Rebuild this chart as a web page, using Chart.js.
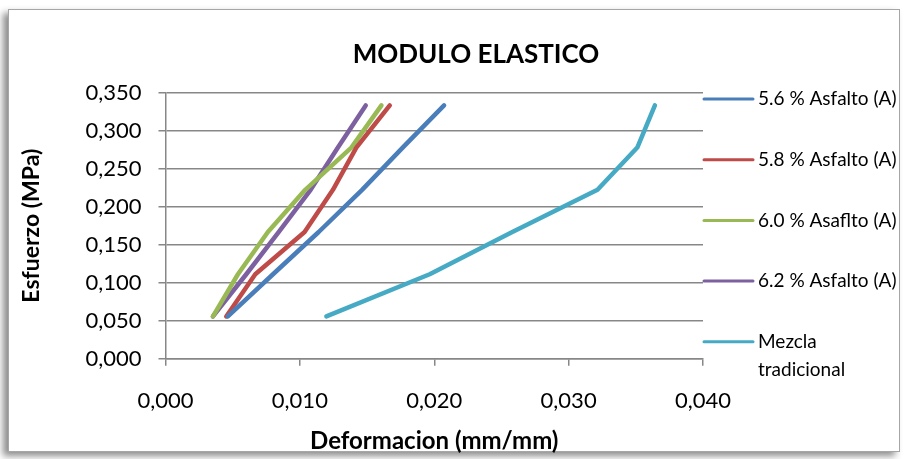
<!DOCTYPE html>
<html>
<head>
<meta charset="utf-8">
<script src="https://cdn.jsdelivr.net/npm/chart.js@4.4.0/dist/chart.umd.min.js"></script>
<style>
    html, body { margin: 0; padding: 0; background: #fff; }
    #wrap { position: relative; width: 907px; height: 459px; overflow: hidden; }
    #frame {
        position: absolute; left: 8px; top: 9px; width: 890px; height: 441px;
        border: 1px solid #a6a6a6; background: #fff;
        box-shadow: -5px 4px 7px rgba(0, 0, 0, 0.45);
    }
    canvas { position: absolute; left: 0; top: 0; }
</style>
</head>
<body>
<div id="wrap">
    <div id="frame"></div>
    <canvas id="moduloChart" width="907" height="459"></canvas>
</div>
<script>
// Esfuerzo (MPa) - niveles de carga comunes a todas las series
const stressLevels = [0.0556, 0.1111, 0.1667, 0.2222, 0.2778, 0.3333];

// Deformacion (mm/mm) por serie
const strain56 = [0.00464, 0.00800, 0.01140, 0.01463, 0.01765, 0.02073];
const strain58 = [0.00452, 0.00668, 0.01035, 0.01246, 0.01420, 0.01669];
const strain60 = [0.00353, 0.00539, 0.00762, 0.01040, 0.01383, 0.01607];
const strain62 = [0.00353, 0.00601, 0.00842, 0.01080, 0.01283, 0.01490];
const strainTrad = [0.01197, 0.01966, 0.02581, 0.03215, 0.03511, 0.03642];

const seriesLabels = ['5.6 % Asfalto (A)', '5.8 % Asfalto (A)', '6.0 % Asaflto (A)', '6.2 % Asfalto (A)', ['Mezcla', 'tradicional']];
const seriesColors = ['#4A7EBB', '#BE4B48', '#98B954', '#7D60A0', '#46AAC5'];
const seriesStrains = [strain56, strain58, strain60, strain62, strainTrad];

const xTicks = [0, 0.01, 0.02, 0.03, 0.04];
const yTicks = [0, 0.05, 0.10, 0.15, 0.20, 0.25, 0.30, 0.35];

const FONT = 'Lato, "Open Sans", sans-serif';
const GRID = '#878787';

const toPoints = (xs, ys) => xs.map((x, i) => ({ x: x, y: ys[i] }));
const fmt = v => v.toFixed(3).replace('.', ',');

// titulo y leyenda dibujados a mano (posiciones del original)
const extrasPlugin = {
    id: 'extras',
    afterDraw(chart) {
        const ctx = chart.ctx;
        const area = chart.chartArea;
        ctx.save();
        ctx.fillStyle = '#000';
        ctx.textBaseline = 'middle';
        ctx.textAlign = 'center';
        ctx.font = 'bold 26px ' + FONT;
        ctx.fillText('MODULO ELASTICO', 476, 55);

        ctx.textAlign = 'left';
        ctx.font = '19px ' + FONT;
        const legendTop = 99;
        const legendStep = 60.7;
        chart.data.datasets.forEach((ds, i) => {
            const y = legendTop + i * legendStep;
            ctx.strokeStyle = ds.borderColor;
            ctx.lineWidth = 3;
            ctx.lineCap = 'round';
            ctx.beginPath();
            ctx.moveTo(area.right + 1, y);
            ctx.lineTo(area.right + 50, y);
            ctx.stroke();
            const lines = Array.isArray(ds.label) ? ds.label : [ds.label];
            lines.forEach((t, j) => ctx.fillText(t, area.right + 55, y + j * 28.5));
        });
        ctx.restore();
    }
};

const ctx = document.getElementById('moduloChart').getContext('2d');
new Chart(ctx, {
    type: 'scatter',
    data: {
        datasets: seriesLabels.map((label, i) => ({
            label: label,
            data: toPoints(seriesStrains[i], stressLevels),
            showLine: true,
            borderColor: seriesColors[i],
            backgroundColor: seriesColors[i],
            borderWidth: 4.5,
            borderCapStyle: 'round',
            borderJoinStyle: 'round',
            pointRadius: 0,
            tension: 0
        }))
    },
    options: {
        responsive: false,
        animation: false,
        layout: { padding: { left: 0, right: 204, top: 92.7, bottom: 0 } },
        plugins: {
            legend: { display: false },
            title: { display: false },
            tooltip: { enabled: false }
        },
        scales: {
            x: {
                type: 'linear',
                min: 0,
                max: 0.04,
                afterBuildTicks: s => { s.ticks = xTicks.map(v => ({ value: v })); },
                afterFit: s => { s.height = 100.3; },
                ticks: {
                    padding: 22,
                    color: '#000',
                    font: { family: FONT, size: 22 },
                    callback: v => fmt(v)
                },
                grid: { drawOnChartArea: false, drawTicks: true, tickLength: 7, color: GRID, lineWidth: 1.5 },
                border: { color: GRID, width: 1.5 },
                title: {
                    display: true,
                    text: 'Deformacion (mm/mm)',
                    color: '#000',
                    font: { family: FONT, size: 24, weight: 'bold' },
                    padding: { top: 0, bottom: 3 }
                }
            },
            y: {
                type: 'linear',
                min: 0,
                max: 0.35,
                afterBuildTicks: s => { s.ticks = yTicks.map(v => ({ value: v })); },
                afterFit: s => { s.width = 165.5; },
                ticks: {
                    padding: 17,
                    color: '#000',
                    font: { family: FONT, size: 22 },
                    callback: v => fmt(v)
                },
                grid: { drawTicks: true, tickLength: 7, color: GRID, lineWidth: 1.5 },
                border: { color: GRID, width: 1.5 },
                title: {
                    display: true,
                    text: 'Esfuerzo (MPa)',
                    color: '#000',
                    font: { family: FONT, size: 23, weight: 'bold' },
                    padding: { top: 18, bottom: 0 }
                }
            }
        }
    },
    plugins: [extrasPlugin]
});
</script>
</body>
</html>
